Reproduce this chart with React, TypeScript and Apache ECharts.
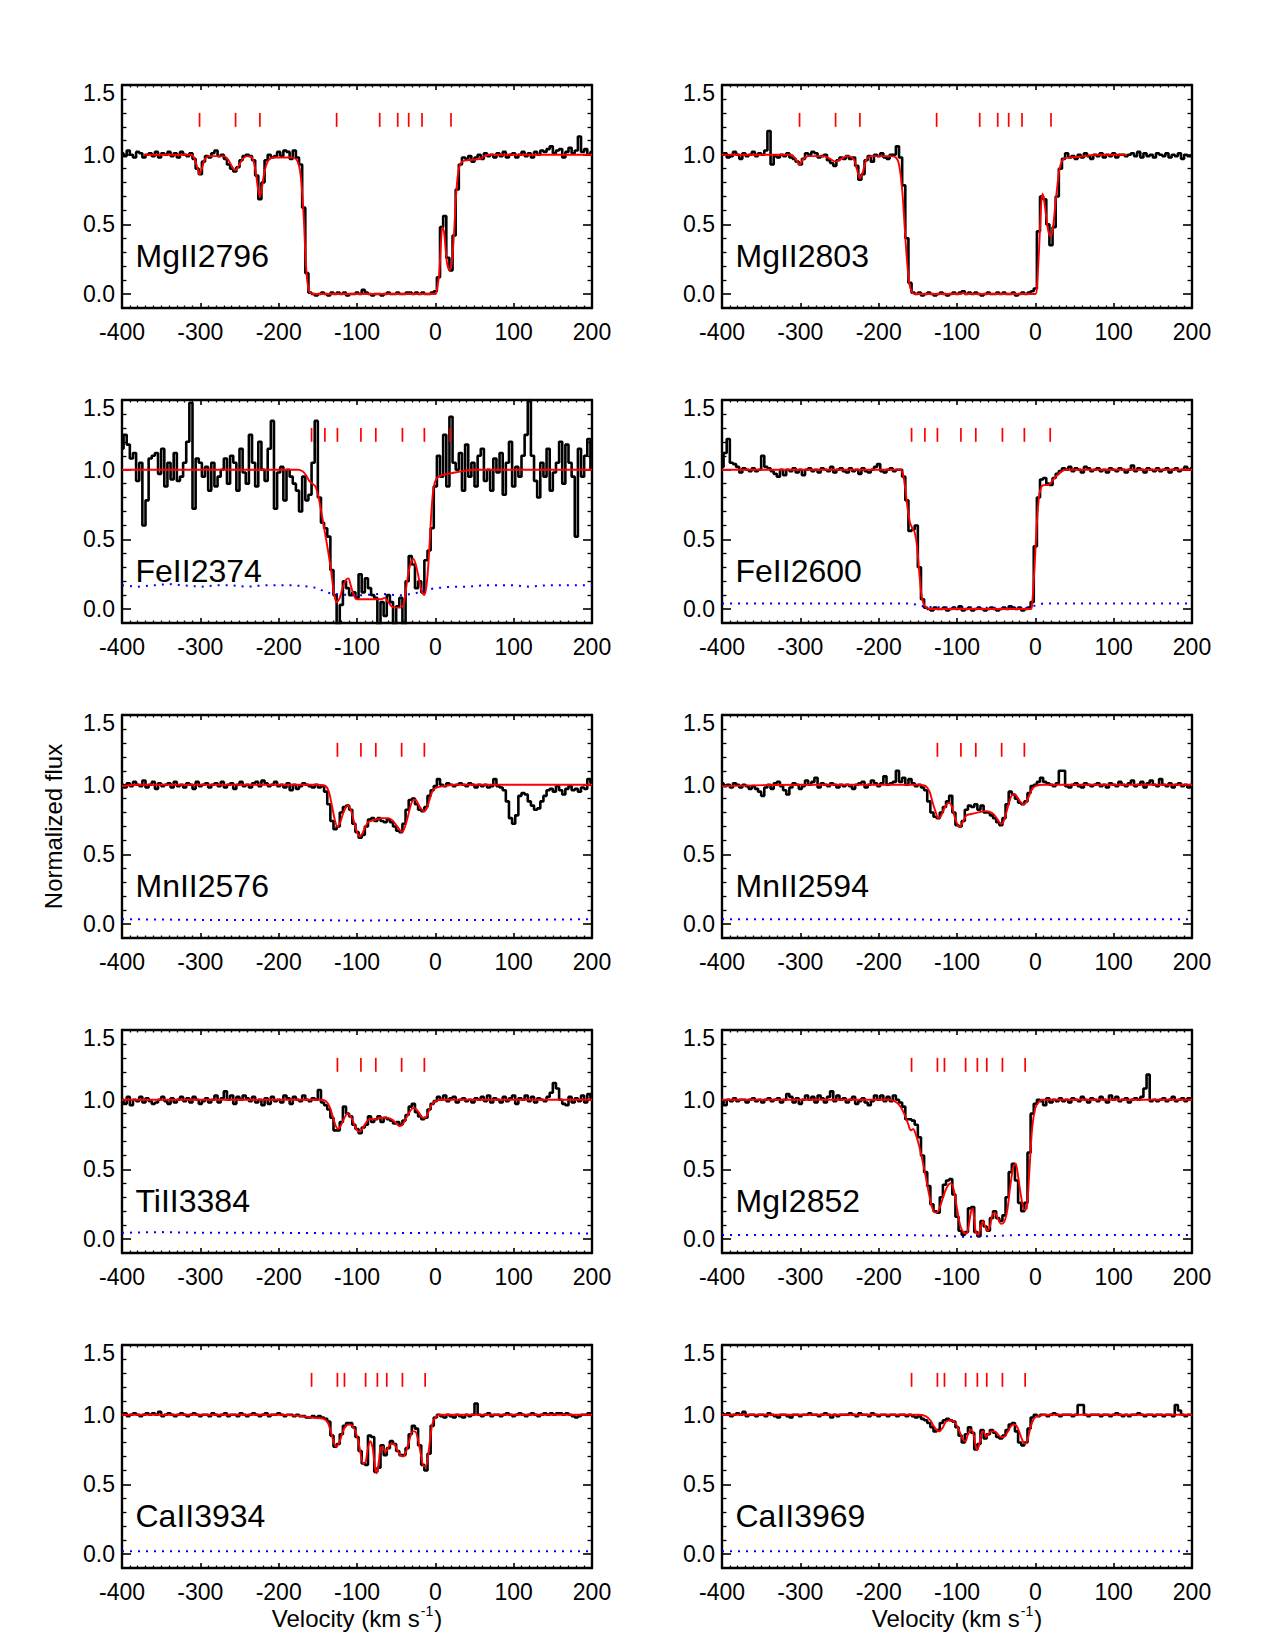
import React, { useEffect, useRef } from "react";
import * as echarts from "echarts";

// Velocity sampling of the observed spectra: one pixel every 4 km/s from -400 to +200 km/s
const V_START = -400;
const V_STEP = 4;

// ---------------------------------------------------------------------------
// Observed normalized flux (rows of 10 pixels; row start velocity in comment)
// ---------------------------------------------------------------------------
const fluxMgII2796 = [
  1.01, 0.99, 1.03, 1.0, 0.98, 1.02, 1.01, 0.98, 1.0, 1.01, // -400
  0.99, 1.02, 0.98, 1.01, 1.0, 1.02, 0.99, 1.01, 0.98, 1.02, // -360
  1.0, 0.99, 1.01, 0.97, 0.9, 0.86, 0.95, 0.99, 0.98, 1.01, // -320
  1.03, 0.99, 1.0, 0.97, 0.93, 0.9, 0.88, 0.91, 0.96, 0.99, // -280
  1.0, 0.99, 0.96, 0.85, 0.68, 0.8, 0.96, 1.0, 0.98, 0.99, // -240
  1.02, 0.99, 1.03, 1.02, 0.97, 1.03, 0.98, 0.93, 0.62, 0.15, // -200
  0.01, 0.0, -0.01, 0.0, 0.01, 0.0, -0.01, 0.01, 0.0, 0.01, // -160
  0.0, 0.01, -0.01, 0.0, 0.0, 0.01, 0.0, 0.03, 0.01, 0.0, // -120
  -0.01, 0.0, 0.0, -0.01, 0.0, 0.01, 0.0, 0.0, 0.01, 0.0, // -80
  0.0, 0.01, 0.01, 0.0, 0.01, 0.0, 0.01, 0.0, 0.0, 0.01, // -40
  0.02, 0.12, 0.48, 0.56, 0.26, 0.17, 0.42, 0.75, 0.93, 0.98, // 0
  0.97, 0.99, 0.95, 0.98, 1.0, 0.97, 1.01, 0.99, 1.0, 0.98, // 40
  1.01, 0.99, 1.02, 0.98, 1.0, 1.01, 0.98, 1.0, 1.02, 0.99, // 80
  1.01, 0.98, 1.02, 1.0, 1.03, 1.02, 1.04, 1.06, 1.01, 1.03, // 120
  1.04, 0.98, 1.02, 1.05, 1.01, 1.03, 1.13, 1.02, 1.04, 1.0, // 160
  1.02, // 200
];

const fluxMgII2803 = [
  1.0, 1.01, 0.98, 0.99, 1.02, 1.0, 0.97, 1.01, 0.99, 1.0,
  1.02, 0.99, 1.01, 1.0, 1.03, 1.17, 0.93, 0.99, 0.98, 1.0,
  0.99, 1.01, 0.98, 0.97, 0.95, 0.93, 0.97, 1.01, 1.0, 1.02,
  1.01, 0.98, 0.99, 1.0, 0.96, 0.94, 0.92, 0.96, 0.98, 0.97,
  0.99, 0.97, 0.98, 0.92, 0.82, 0.86, 0.96, 0.99, 0.95, 1.0,
  0.99, 1.01, 0.98, 0.97, 1.0, 1.0, 1.06, 0.98, 0.78, 0.4,
  0.08, 0.01, 0.0, 0.01, -0.01, 0.0, 0.01, 0.0, -0.01, 0.0,
  0.01, 0.0, -0.01, 0.0, 0.01, 0.0, 0.01, 0.02, 0.0, 0.01,
  0.0, 0.01, 0.0, -0.01, 0.0, 0.01, 0.0, 0.0, 0.01, 0.0,
  0.01, 0.0, 0.0, 0.01, -0.01, 0.0, 0.01, 0.0, 0.01, 0.02,
  0.04, 0.45, 0.7, 0.68, 0.5, 0.35, 0.48, 0.7, 0.9, 0.97,
  1.01, 0.98, 0.99, 0.97, 1.0, 0.98, 1.01, 0.99, 0.97, 1.0,
  0.99, 1.01, 0.98, 1.0, 0.99, 1.01, 0.98, 1.0, 1.0, 0.99,
  1.0, 1.01, 0.99, 1.02, 0.98, 1.01, 0.99, 1.0, 0.98, 1.01,
  1.0, 0.99, 1.01, 0.98, 1.0, 0.99, 1.01, 0.97, 1.0, 0.99,
  0.99,
];

const fluxFeII2374 = [
  1.15, 1.25, 1.18, 1.08, 1.12, 0.92, 1.05, 0.6, 0.78, 1.08,
  1.1, 1.12, 0.97, 1.15, 0.88, 1.05, 0.93, 1.12, 0.92, 0.95,
  1.05, 1.2, 1.48, 0.72, 1.08, 1.05, 0.95, 1.02, 0.85, 1.05,
  0.88, 0.95, 1.0, 1.08, 0.9, 1.1, 1.05, 0.85, 1.15, 0.98,
  0.9, 1.25, 1.05, 0.88, 1.2, 1.0, 0.92, 1.15, 1.35, 0.72,
  0.98, 1.02, 0.78, 1.0, 0.95, 0.9, 0.85, 0.7, 0.95, 0.78,
  0.82, 1.05, 1.35, 0.8, 0.62, 0.58, 0.52, 0.28, 0.1, -0.12,
  0.03, 0.2, 0.15, 0.1, 0.12, 0.08, 0.25, 0.12, 0.22, 0.15,
  0.1, 0.08, -0.12, 0.05, -0.05, 0.1, 0.05, -0.12, 0.02, 0.08,
  -0.12, 0.2, 0.38, 0.32, 0.15, 0.2, 0.12, 0.35, 0.42, 0.58,
  0.88, 1.1, 0.95, 1.25, 0.88, 1.38, 1.05, 1.0, 1.12, 0.85,
  1.18, 0.95, 1.05, 0.88, 1.1, 1.15, 0.92, 1.0, 0.85, 1.08,
  0.98, 1.12, 0.82, 1.05, 1.2, 0.88, 1.02, 0.95, 1.1, 1.25,
  1.5, 1.1, 0.92, 0.8, 1.05, 0.95, 1.15, 0.85, 0.98, 1.05,
  1.2, 0.9, 1.18, 1.05, 0.95, 0.52, 1.15, 0.95, 1.1, 1.22,
  1.0,
];

const fluxFeII2600 = [
  1.02, 1.12, 1.22, 1.05, 1.04, 1.02, 0.98, 1.01, 1.0, 0.99,
  1.01, 0.99, 1.0, 1.1, 1.02, 1.01, 0.99, 0.97, 0.95, 1.0,
  0.96, 1.0, 0.99, 1.01, 0.98, 1.0, 0.96, 1.0, 1.01, 0.99,
  1.0, 0.98, 1.01, 1.0, 0.99, 1.02, 0.98, 1.0, 1.01, 0.99,
  0.98, 1.01, 0.99, 1.0, 0.97, 1.01, 0.99, 0.98, 1.0, 1.02,
  1.04, 0.99, 0.98, 1.0, 1.01, 0.99, 1.0, 1.0, 0.95, 0.78,
  0.56, 0.57, 0.6, 0.3, 0.07, 0.01, 0.0, -0.01, 0.01, 0.0,
  0.0, 0.01, -0.01, 0.0, 0.01, 0.0, 0.02, -0.01, 0.0, 0.01,
  -0.01, 0.0, 0.01, 0.0, -0.01, 0.0, 0.01, 0.0, -0.01, 0.0,
  0.01, 0.0, 0.02, 0.01, 0.0, 0.01, -0.01, 0.0, 0.01, 0.05,
  0.45, 0.8, 0.93, 0.94, 0.9, 0.89, 0.94, 0.97, 0.99, 1.01,
  1.0, 1.02, 0.99, 1.01, 1.0, 0.98, 1.02, 1.01, 0.99, 1.0,
  1.01, 0.99, 1.0, 0.98, 1.01, 1.0, 0.99, 1.01, 1.0, 0.98,
  1.0, 1.03, 0.99, 1.01, 1.0, 0.98, 1.01, 1.0, 0.99, 1.01,
  0.99, 1.0, 1.01, 0.98, 1.0, 1.01, 0.99, 1.0, 1.02, 1.0,
  1.01,
];

const fluxMnII2576 = [
  1.0, 0.98, 1.01, 0.99, 1.02, 1.0, 0.99, 1.03, 0.98, 1.0,
  1.02, 0.97, 1.01, 0.99, 1.0, 1.01, 0.98, 1.02, 0.99, 1.0,
  0.98, 1.01, 1.0, 0.97, 1.02, 0.99, 1.0, 1.01, 0.98, 1.0,
  1.01, 0.99, 1.02, 0.98, 1.0, 1.01, 0.97, 1.0, 1.02, 0.99,
  1.0, 0.98, 1.01, 1.02, 0.99, 1.03, 1.01, 0.99, 1.0, 1.02,
  0.99, 1.0, 0.98, 1.01, 0.96, 1.0, 0.97, 0.99, 1.01, 1.0,
  0.99, 0.98, 1.0, 0.98, 0.99, 0.95, 0.86, 0.74, 0.68, 0.7,
  0.8, 0.84, 0.85, 0.82, 0.72, 0.66, 0.62, 0.64, 0.7, 0.75,
  0.76, 0.74, 0.76, 0.74, 0.73, 0.75, 0.73, 0.7, 0.67, 0.66,
  0.72, 0.82, 0.89, 0.9, 0.86, 0.82, 0.81, 0.84, 0.92, 0.96,
  0.99, 1.04, 1.0, 0.99, 1.01, 1.0, 0.99, 1.0, 1.01, 1.0,
  0.99, 1.01, 1.0, 0.98, 1.0, 0.99, 1.0, 0.98, 0.99, 1.04,
  0.99, 0.98, 0.96, 0.88, 0.76, 0.72, 0.78, 0.92, 0.94, 0.93,
  0.88, 0.85, 0.82, 0.83, 0.88, 0.92, 0.96, 0.97, 0.95, 0.99,
  0.96, 0.93, 0.97, 0.99, 0.96, 0.97, 0.95, 0.98, 0.97, 1.04,
  1.01,
];

const fluxMnII2594 = [
  1.01, 0.99, 1.0, 0.98, 1.01, 1.0, 0.98, 1.0, 0.99, 0.97,
  0.99, 0.97, 0.95, 0.92, 0.98, 1.0, 0.97, 1.01, 1.02, 0.99,
  0.96, 0.93, 0.98, 1.01, 1.0, 0.97, 0.99, 1.03, 1.0, 1.02,
  1.05, 0.98, 1.01, 1.0, 0.99, 1.01, 1.0, 0.98, 1.0, 0.99,
  1.0, 0.99, 0.97, 1.0, 1.01, 1.02, 0.98, 1.0, 1.03, 1.01,
  0.99, 1.01, 1.06, 1.0, 1.01, 1.02, 1.1, 1.02, 1.05, 1.0,
  1.04, 1.01, 0.99, 1.0, 0.98, 0.96, 0.88, 0.8, 0.77, 0.76,
  0.8, 0.84, 0.88, 0.92, 0.8, 0.71, 0.7, 0.74, 0.82, 0.85,
  0.84, 0.86, 0.82, 0.85, 0.8, 0.8, 0.78, 0.76, 0.73, 0.71,
  0.76, 0.86, 0.95, 0.93, 0.9, 0.87, 0.86, 0.88, 0.94, 0.99,
  1.0, 1.02, 1.05, 1.02, 1.01, 1.0, 0.99, 1.01, 1.1, 1.1,
  0.99, 0.98, 1.0, 1.01, 0.99, 0.98, 1.01, 1.0, 0.99, 1.0,
  1.01, 0.99, 1.0, 0.98, 1.01, 1.0, 0.99, 1.02, 1.0, 0.99,
  1.01, 1.03, 0.99, 1.0, 1.02, 0.98, 1.01, 1.03, 1.0, 0.99,
  1.04, 1.0, 0.99, 1.01, 0.98, 1.0, 1.01, 0.99, 1.0, 0.98,
  1.0,
];

const fluxTiII3384 = [
  1.0, 0.97, 1.02, 0.96, 1.0, 0.99, 1.02, 0.98, 1.01, 0.99,
  0.97, 0.98, 1.0, 1.02, 0.99, 0.97, 1.01, 0.98, 1.0, 1.02,
  0.99, 1.01, 0.98, 1.02, 1.0, 0.97, 0.99, 1.01, 0.98, 1.0,
  1.03, 0.98, 1.01, 1.06, 1.0, 1.03, 0.97, 1.02, 1.0, 1.03,
  1.01, 0.99, 1.02, 0.98, 1.0, 0.96, 1.01, 0.97, 1.02, 0.99,
  1.0, 0.98, 1.03, 1.01, 0.97, 1.02, 1.0, 0.99, 1.03, 1.0,
  0.99, 1.01, 1.0, 1.07, 0.98, 0.96, 0.93, 0.87, 0.78, 0.78,
  0.84, 0.95, 0.9, 0.88, 0.82, 0.79, 0.76, 0.8, 0.82, 0.88,
  0.84, 0.86, 0.88, 0.84, 0.87, 0.86, 0.85, 0.83, 0.84, 0.82,
  0.85, 0.89, 0.95, 0.97, 0.91, 0.88, 0.86, 0.87, 0.93, 0.97,
  0.99, 1.02, 1.0, 1.03, 0.99, 1.01, 1.02, 0.98, 1.0, 1.01,
  0.99, 1.0, 0.98, 1.01, 1.0, 1.02, 0.99, 1.03, 0.98, 1.01,
  1.0, 0.98, 1.02, 0.99, 1.01, 1.03, 0.97, 1.01, 1.0, 1.03,
  0.99, 1.02, 0.98, 1.01, 1.0, 0.99, 1.02, 1.05, 1.12, 1.08,
  1.0, 0.97, 0.96, 1.02, 0.98, 1.01, 0.99, 1.03, 0.98, 1.04,
  1.01,
];

const fluxMgI2852 = [
  0.99, 0.96, 1.0, 0.99, 1.01, 0.99, 1.0, 1.0, 0.98, 1.0,
  1.01, 0.99, 1.0, 0.98, 1.0, 1.01, 0.99, 1.0, 1.01, 0.98,
  1.0, 1.04, 1.02, 0.98, 1.01, 0.97, 1.0, 1.03, 1.0, 1.02,
  0.98, 1.03, 1.01, 0.98, 1.02, 1.06, 0.99, 1.03, 1.0, 1.01,
  0.98, 1.0, 1.02, 0.97, 0.99, 1.01, 0.98, 0.96, 0.99, 1.03,
  1.0, 1.03, 0.99, 1.02, 0.99, 1.03, 1.0, 0.98, 0.95, 0.86,
  0.86, 0.85, 0.82, 0.73, 0.6, 0.48, 0.38, 0.25, 0.2, 0.19,
  0.3, 0.39, 0.42, 0.43, 0.32, 0.16, 0.06, 0.03, 0.05, 0.22,
  0.23, 0.05, 0.02, 0.13, 0.09, 0.06, 0.15, 0.2, 0.15, 0.13,
  0.17, 0.3, 0.48, 0.54, 0.42, 0.26, 0.2, 0.26, 0.62, 0.9,
  0.97, 1.0, 0.99, 0.96, 1.01, 0.98, 1.0, 0.99, 1.01, 0.99,
  1.0, 0.98, 1.01, 1.0, 0.99, 1.02, 1.0, 0.98, 1.01, 1.0,
  0.99, 1.02, 1.0, 0.98, 1.03, 1.0, 1.02, 0.99, 1.0, 1.01,
  0.98, 1.0, 1.01, 1.0, 1.02, 1.08, 1.18, 0.99, 1.0, 0.99,
  1.0, 1.01, 0.99, 1.0, 1.02, 0.99, 1.0, 1.01, 0.99, 1.01,
  1.0,
];

const fluxCaII3934 = [
  1.0, 1.01, 0.99, 1.0, 1.01, 1.0, 0.99, 1.0, 1.01, 1.0,
  1.01, 1.0, 1.02, 0.99, 1.0, 1.01, 1.0, 0.99, 1.0, 1.01,
  1.0, 0.99, 1.0, 1.01, 1.0, 0.99, 1.0, 1.0, 0.99, 1.01,
  1.0, 0.99, 1.0, 1.01, 0.99, 1.0, 1.0, 0.99, 1.01, 1.0,
  0.99, 1.0, 1.01, 1.0, 0.99, 1.0, 1.01, 0.99, 1.0, 1.0,
  1.01, 1.0, 0.99, 1.0, 1.0, 0.99, 1.0, 0.99, 0.99, 0.98,
  0.98, 0.99, 0.98, 0.99, 0.98, 0.97, 0.95, 0.85, 0.77, 0.79,
  0.86, 0.92, 0.94, 0.94, 0.91, 0.84, 0.74, 0.65, 0.64, 0.85,
  0.84, 0.59, 0.62, 0.78, 0.71, 0.76, 0.81, 0.79, 0.74, 0.71,
  0.71, 0.76, 0.86, 0.92, 0.9, 0.78, 0.64, 0.6, 0.72, 0.92,
  0.98, 1.0, 0.99, 0.98, 1.0, 0.99, 0.98, 1.0, 0.99, 0.98,
  1.0, 0.99, 1.0, 1.08, 1.0, 0.99, 1.0, 1.01, 0.99, 1.0,
  1.0, 0.99, 1.0, 1.01, 1.0, 0.99, 1.0, 1.01, 1.0, 0.99,
  1.0, 1.01, 1.0, 0.99, 1.0, 1.01, 1.0, 1.01, 1.0, 1.01,
  1.01, 1.0, 1.01, 1.0, 0.99, 0.98, 0.99, 1.0, 1.0, 1.01,
  1.0,
];

const fluxCaII3969 = [
  1.01, 1.0, 1.01, 0.99, 1.0, 1.01, 1.0, 1.02, 0.99, 1.0,
  1.0, 0.99, 1.0, 1.0, 0.99, 1.01, 1.0, 0.99, 0.98, 1.0,
  1.0, 0.99, 0.98, 1.0, 1.0, 0.99, 1.0, 1.0, 1.01, 1.0,
  1.0, 0.99, 1.0, 1.01, 1.0, 0.98, 1.0, 0.99, 1.0, 1.0,
  1.0, 1.01, 1.0, 0.99, 1.01, 1.0, 1.0, 0.99, 1.01, 1.0,
  0.99, 1.0, 1.0, 0.99, 1.0, 1.0, 0.99, 1.0, 1.0, 0.99,
  1.0, 0.99, 0.98, 0.99, 0.97, 0.96, 0.94, 0.91, 0.88, 0.89,
  0.94, 0.96, 0.97, 0.96, 0.95, 0.91, 0.85, 0.8, 0.86, 0.91,
  0.87, 0.75, 0.79, 0.89, 0.83, 0.86, 0.89, 0.87, 0.84, 0.83,
  0.85, 0.89, 0.93, 0.94, 0.88, 0.8, 0.78, 0.8, 0.9, 0.98,
  1.0, 0.99, 1.0, 1.0, 0.99, 1.0, 1.01, 1.0, 0.99, 1.0,
  1.0, 1.0, 0.99, 1.0, 1.07, 1.07, 1.0, 0.99, 1.0, 1.0,
  1.0, 0.99, 1.0, 1.0, 0.99, 1.0, 1.01, 1.0, 0.99, 1.0,
  0.99, 1.0, 1.0, 1.01, 1.0, 0.99, 1.0, 1.0, 0.99, 1.0,
  1.0, 0.99, 1.0, 1.0, 0.99, 1.07, 1.03, 1.0, 0.99, 1.0,
  1.0,
];

// ---------------------------------------------------------------------------
// Voigt-profile fits, as [velocity, normalized flux]
// ---------------------------------------------------------------------------
const modelMgII2796 = [
  [-372, 1.0], [-312, 1.0], [-308, 0.98], [-304, 0.91], [-301, 0.86], [-298, 0.9], [-294, 0.97],
  [-288, 0.99], [-270, 0.99], [-264, 0.96], [-258, 0.9], [-255, 0.89], [-251, 0.92], [-246, 0.97],
  [-240, 0.99], [-234, 0.98], [-230, 0.9], [-226, 0.74], [-224, 0.7], [-222, 0.74], [-218, 0.88],
  [-213, 0.96], [-205, 0.98], [-185, 0.98], [-178, 0.97], [-174, 0.92], [-171, 0.8], [-168, 0.55],
  [-166, 0.3], [-164, 0.12], [-162, 0.04], [-160, 0.01], [-155, 0.0], [0, 0.0], [2, 0.03], [5, 0.15],
  [7, 0.35], [9, 0.48], [11, 0.45], [13, 0.33], [15, 0.22], [18, 0.17], [21, 0.22], [24, 0.45],
  [27, 0.75], [30, 0.9], [34, 0.95], [40, 0.96], [58, 0.97], [62, 0.99], [70, 1.0], [200, 1.0],
];

const modelMgII2803 = [
  [-400, 1.0], [-312, 1.0], [-306, 0.97], [-301, 0.93], [-296, 0.97], [-290, 0.99], [-270, 0.99],
  [-262, 0.97], [-255, 0.95], [-248, 0.97], [-240, 0.99], [-232, 0.97], [-228, 0.9], [-224, 0.83],
  [-220, 0.88], [-215, 0.97], [-208, 0.99], [-185, 0.99], [-178, 0.98], [-174, 0.93], [-170, 0.75],
  [-167, 0.5], [-164, 0.25], [-161, 0.08], [-158, 0.02], [-154, 0.0], [-95, 0.0], [-92, 0.01],
  [-89, 0.0], [0, 0.0], [2, 0.05], [5, 0.35], [7, 0.6], [9, 0.72], [11, 0.68], [14, 0.55], [17, 0.44],
  [20, 0.41], [23, 0.5], [27, 0.72], [31, 0.9], [36, 0.97], [45, 0.98], [65, 0.99], [75, 1.0], [117, 1.0],
];

const modelFeII2374 = [
  [-400, 1.0], [-175, 1.0], [-170, 0.99], [-165, 0.96], [-161, 0.92], [-157, 0.9], [-153, 0.88],
  [-149, 0.8], [-145, 0.68], [-141, 0.55], [-137, 0.42], [-133, 0.27], [-129, 0.1], [-126, 0.05],
  [-122, 0.08], [-118, 0.16], [-114, 0.21], [-111, 0.22], [-108, 0.17], [-104, 0.1], [-100, 0.07],
  [-90, 0.07], [-80, 0.07], [-70, 0.07], [-65, 0.08], [-60, 0.05], [-56, 0.02], [-50, 0.01],
  [-44, 0.01], [-40, 0.05], [-36, 0.2], [-32, 0.32], [-28, 0.36], [-25, 0.32], [-21, 0.22],
  [-17, 0.12], [-14, 0.1], [-11, 0.18], [-8, 0.4], [-5, 0.7], [-2, 0.88], [2, 0.94], [8, 0.96],
  [16, 0.97], [25, 0.98], [35, 0.99], [50, 1.0], [200, 1.0],
];

const modelFeII2600 = [
  [-400, 1.0], [-172, 1.0], [-169, 0.97], [-166, 0.86], [-163, 0.72], [-160, 0.62], [-157, 0.58],
  [-154, 0.55], [-151, 0.45], [-148, 0.25], [-145, 0.09], [-142, 0.03], [-139, 0.01], [-135, 0.0],
  [-6, 0.0], [-4, 0.04], [-1, 0.3], [2, 0.62], [5, 0.82], [8, 0.88], [12, 0.89], [16, 0.89],
  [19, 0.9], [23, 0.93], [28, 0.96], [34, 0.99], [40, 1.0], [200, 1.0],
];

const modelMnII2576 = [
  [-400, 0.99], [-380, 1.0], [-150, 1.0], [-140, 0.99], [-136, 0.95], [-132, 0.85], [-128, 0.74],
  [-125, 0.7], [-122, 0.72], [-118, 0.79], [-114, 0.84], [-111, 0.85], [-108, 0.82], [-104, 0.74],
  [-100, 0.66], [-97, 0.63], [-94, 0.64], [-90, 0.69], [-86, 0.73], [-82, 0.74], [-76, 0.75],
  [-68, 0.76], [-60, 0.76], [-54, 0.74], [-50, 0.71], [-46, 0.68], [-43, 0.66], [-40, 0.68],
  [-36, 0.75], [-32, 0.84], [-28, 0.89], [-25, 0.89], [-21, 0.85], [-17, 0.82], [-14, 0.81],
  [-11, 0.83], [-7, 0.9], [-3, 0.96], [2, 0.98], [10, 0.99], [25, 1.0], [200, 1.0],
];

const modelMnII2594 = [
  [-400, 0.99], [-300, 1.0], [-150, 1.0], [-140, 0.99], [-135, 0.95], [-131, 0.87], [-127, 0.8],
  [-124, 0.76], [-121, 0.77], [-117, 0.82], [-113, 0.86], [-110, 0.87], [-107, 0.85], [-103, 0.77],
  [-99, 0.71], [-96, 0.7], [-92, 0.74], [-88, 0.78], [-82, 0.79], [-74, 0.8], [-64, 0.81],
  [-56, 0.8], [-52, 0.78], [-48, 0.75], [-44, 0.72], [-41, 0.73], [-37, 0.8], [-33, 0.88],
  [-29, 0.93], [-26, 0.93], [-22, 0.9], [-18, 0.87], [-15, 0.86], [-12, 0.87], [-8, 0.92],
  [-4, 0.97], [0, 0.99], [10, 1.0], [200, 1.0],
];

const modelTiII3384 = [
  [-400, 1.0], [-145, 1.0], [-140, 0.99], [-135, 0.95], [-131, 0.88], [-127, 0.81], [-124, 0.79],
  [-121, 0.81], [-116, 0.87], [-112, 0.9], [-108, 0.88], [-104, 0.83], [-100, 0.78], [-97, 0.77],
  [-93, 0.79], [-88, 0.84], [-84, 0.86], [-78, 0.86], [-70, 0.87], [-62, 0.87], [-56, 0.86],
  [-50, 0.83], [-46, 0.81], [-42, 0.82], [-37, 0.87], [-32, 0.92], [-28, 0.94], [-24, 0.93],
  [-20, 0.9], [-16, 0.87], [-13, 0.87], [-9, 0.91], [-5, 0.96], [0, 0.99], [10, 1.0], [200, 1.0],
];

const modelMgI2852 = [
  [-400, 1.0], [-185, 1.0], [-180, 0.99], [-175, 0.97], [-170, 0.93], [-166, 0.88], [-162, 0.82],
  [-159, 0.78], [-156, 0.79], [-152, 0.74], [-148, 0.66], [-144, 0.56], [-140, 0.45], [-136, 0.33],
  [-132, 0.23], [-128, 0.19], [-124, 0.2], [-120, 0.26], [-116, 0.33], [-112, 0.38], [-108, 0.4],
  [-104, 0.35], [-100, 0.22], [-96, 0.1], [-92, 0.05], [-88, 0.04], [-85, 0.1], [-82, 0.2],
  [-80, 0.22], [-78, 0.14], [-76, 0.05], [-73, 0.03], [-70, 0.08], [-67, 0.13], [-64, 0.09],
  [-61, 0.06], [-58, 0.09], [-55, 0.17], [-52, 0.19], [-48, 0.15], [-44, 0.11], [-40, 0.12],
  [-36, 0.2], [-32, 0.38], [-28, 0.52], [-25, 0.54], [-22, 0.45], [-18, 0.3], [-14, 0.21],
  [-11, 0.22], [-8, 0.45], [-4, 0.8], [0, 0.94], [4, 0.98], [8, 1.0], [200, 1.0],
];

const modelCaII3934 = [
  [-400, 1.0], [-200, 1.0], [-170, 0.99], [-158, 0.98], [-150, 0.975], [-142, 0.97], [-137, 0.94],
  [-133, 0.87], [-129, 0.79], [-126, 0.77], [-122, 0.81], [-118, 0.88], [-114, 0.92], [-110, 0.93],
  [-106, 0.92], [-102, 0.88], [-98, 0.8], [-95, 0.71], [-92, 0.65], [-89, 0.66], [-86, 0.76],
  [-83, 0.81], [-80, 0.76], [-77, 0.62], [-75, 0.58], [-72, 0.67], [-70, 0.76], [-67, 0.77],
  [-64, 0.73], [-61, 0.75], [-57, 0.79], [-53, 0.79], [-49, 0.75], [-45, 0.71], [-41, 0.7],
  [-37, 0.74], [-33, 0.82], [-29, 0.88], [-26, 0.88], [-22, 0.82], [-18, 0.7], [-15, 0.63],
  [-12, 0.63], [-8, 0.76], [-4, 0.93], [0, 0.98], [6, 1.0], [200, 1.0],
];

const modelCaII3969 = [
  [-400, 1.0], [-150, 1.0], [-140, 0.99], [-134, 0.96], [-130, 0.92], [-126, 0.89], [-123, 0.88],
  [-119, 0.9], [-114, 0.95], [-108, 0.96], [-104, 0.95], [-100, 0.92], [-96, 0.87], [-92, 0.82],
  [-89, 0.81], [-86, 0.86], [-82, 0.89], [-79, 0.86], [-76, 0.77], [-74, 0.75], [-71, 0.8],
  [-68, 0.88], [-66, 0.88], [-63, 0.84], [-60, 0.86], [-56, 0.88], [-52, 0.88], [-48, 0.86],
  [-44, 0.84], [-40, 0.84], [-36, 0.87], [-32, 0.91], [-28, 0.93], [-24, 0.92], [-20, 0.87],
  [-16, 0.81], [-13, 0.79], [-10, 0.82], [-6, 0.91], [-2, 0.97], [3, 0.99], [20, 1.0], [200, 1.0],
];

// ---------------------------------------------------------------------------
// 1-sigma error spectra, as [velocity, error]
// ---------------------------------------------------------------------------
const errFeII2374 = [
  [-400, 0.17], [-380, 0.16], [-360, 0.17], [-340, 0.18], [-320, 0.17], [-300, 0.16], [-280, 0.17],
  [-260, 0.17], [-240, 0.16], [-220, 0.17], [-200, 0.17], [-180, 0.17], [-160, 0.16], [-150, 0.15],
  [-140, 0.12], [-130, 0.11], [-110, 0.1], [-90, 0.1], [-70, 0.11], [-50, 0.1], [-40, 0.1],
  [-30, 0.11], [-20, 0.12], [-10, 0.14], [0, 0.15], [20, 0.16], [40, 0.16], [60, 0.17], [80, 0.17],
  [100, 0.17], [120, 0.16], [140, 0.17], [160, 0.17], [180, 0.17], [200, 0.17],
];
const errFeII2600 = [
  [-400, 0.04], [-300, 0.04], [-200, 0.04], [-160, 0.04], [-150, 0.03], [-140, 0.015], [-100, 0.01],
  [-50, 0.01], [-10, 0.01], [0, 0.025], [10, 0.04], [100, 0.04], [200, 0.04],
];
const errMnII2576 = [[-400, 0.035], [-300, 0.03], [-200, 0.03], [-100, 0.025], [0, 0.03], [100, 0.03], [200, 0.035]];
const errMnII2594 = [[-400, 0.035], [-200, 0.035], [-100, 0.03], [0, 0.035], [200, 0.035]];
const errTiII3384 = [[-400, 0.045], [-350, 0.05], [-300, 0.045], [-200, 0.045], [-100, 0.04], [0, 0.045], [100, 0.045], [200, 0.04]];
const errMgI2852 = [[-400, 0.03], [-200, 0.03], [-120, 0.025], [-90, 0.015], [-60, 0.02], [-20, 0.03], [200, 0.03]];
const errCaII3934 = [[-400, 0.02], [200, 0.02]];
const errCaII3969 = [[-400, 0.02], [200, 0.02]];

// ---------------------------------------------------------------------------
// Velocities of the fitted components (red markers)
// ---------------------------------------------------------------------------
const compMgII = [-301, -255, -224, -126, -71, -48, -34, -17, 20];
const compFeII = [-158, -141, -125, -95, -76, -42, -14, 19];
const compMnII = [-125, -95, -76, -43, -14];
const compTiII = [-125, -95, -76, -43, -14];
const compMgI = [-158, -125, -116, -89, -74, -62, -42, -13];
const compCaII = [-158, -125, -116, -89, -74, -62, -42, -13];

// Axis ticks
const xTickStep = 100;
const yMajorTicks = [0, 0.5, 1.0, 1.5];
const yMinorTicks = [0.1, 0.2, 0.3, 0.4, 0.6, 0.7, 0.8, 0.9, 1.1, 1.2, 1.3, 1.4];

type Panel = {
  name: string;
  flux: number[];
  model: number[][];
  err: number[][] | null;
  comps: number[];
};

const PANELS: Panel[] = [
  { name: "MgII2796", flux: fluxMgII2796, model: modelMgII2796, err: null, comps: compMgII },
  { name: "MgII2803", flux: fluxMgII2803, model: modelMgII2803, err: null, comps: compMgII },
  { name: "FeII2374", flux: fluxFeII2374, model: modelFeII2374, err: errFeII2374, comps: compFeII },
  { name: "FeII2600", flux: fluxFeII2600, model: modelFeII2600, err: errFeII2600, comps: compFeII },
  { name: "MnII2576", flux: fluxMnII2576, model: modelMnII2576, err: errMnII2576, comps: compMnII },
  { name: "MnII2594", flux: fluxMnII2594, model: modelMnII2594, err: errMnII2594, comps: compMnII },
  { name: "TiII3384", flux: fluxTiII3384, model: modelTiII3384, err: errTiII3384, comps: compTiII },
  { name: "MgI2852", flux: fluxMgI2852, model: modelMgI2852, err: errMgI2852, comps: compMgI },
  { name: "CaII3934", flux: fluxCaII3934, model: modelCaII3934, err: errCaII3934, comps: compCaII },
  { name: "CaII3969", flux: fluxCaII3969, model: modelCaII3969, err: errCaII3969, comps: compCaII },
];

// Layout of the 5x2 panel grid (pixels)
const COL_LEFT = [122, 722];
const ROW_TOP0 = 85;
const ROW_STEP = 315;
const PLOT_W = 470;
const PLOT_H = 223;
const Y_MIN = -0.1;
const Y_MAX = 1.5;
const MARK_LOW = 1.2;
const MARK_HIGH = 1.3;

const FONT = '"Liberation Sans", Arial, Helvetica, sans-serif';
const BLACK = "#000000";
const RED = "#ff0000";
const BLUE = "#0000ff";

function buildOption() {
  const grids: any[] = [];
  const xAxes: any[] = [];
  const yAxes: any[] = [];
  const series: any[] = [];
  const graphics: any[] = [];

  const frame = { show: true, onZero: false, lineStyle: { color: BLACK, width: 2.4 } };

  PANELS.forEach((p, i) => {
    const row = Math.floor(i / 2);
    const col = i % 2;
    const left = COL_LEFT[col];
    const top = ROW_TOP0 + row * ROW_STEP;
    grids.push({ left, top, width: PLOT_W, height: PLOT_H, containLabel: false, outerBoundsMode: "none" });

    ["bottom", "top"].forEach((pos) => {
      xAxes.push({
        gridIndex: i,
        type: "value",
        position: pos,
        min: -400,
        max: 200,
        interval: xTickStep,
        axisLine: frame,
        axisTick: { show: true, inside: true, length: 5, lineStyle: { color: BLACK, width: 1.6 } },
        minorTick: { show: true, splitNumber: 10, length: 2.5, lineStyle: { color: BLACK, width: 1.3 } },
        axisLabel: {
          show: pos === "bottom",
          margin: 12,
          fontSize: 23,
          fontFamily: FONT,
          color: BLACK,
        },
        splitLine: { show: false },
        minorSplitLine: { show: false },
      });
    });

    ["left", "right"].forEach((pos) => {
      yAxes.push({
        gridIndex: i,
        type: "value",
        position: pos,
        min: Y_MIN,
        max: Y_MAX,
        axisLine: frame,
        axisTick: {
          show: true,
          inside: true,
          length: 9,
          customValues: yMajorTicks,
          lineStyle: { color: BLACK, width: 1.6 },
        },
        axisLabel: {
          show: pos === "left",
          customValues: yMajorTicks,
          // the top label sits just inside the frame, below the upper border
          formatter: (v: number) => (v >= 1.5 ? "{top|" + v.toFixed(1) + "}" : v.toFixed(1)),
          rich: {
            top: { fontSize: 23, fontFamily: FONT, color: BLACK, padding: [15, 0, 0, 0] },
          },
          margin: 7,
          fontSize: 23,
          fontFamily: FONT,
          color: BLACK,
        },
        splitLine: { show: false },
      });
      yAxes.push({
        gridIndex: i,
        type: "value",
        position: pos,
        min: Y_MIN,
        max: Y_MAX,
        axisLine: { show: false, onZero: false },
        axisTick: {
          show: true,
          inside: true,
          length: 4.5,
          customValues: yMinorTicks,
          lineStyle: { color: BLACK, width: 1.3 },
        },
        axisLabel: { show: false },
        splitLine: { show: false },
      });
    });

    const xi = 2 * i;
    const yi = 4 * i;

    series.push({
      type: "line",
      xAxisIndex: xi,
      yAxisIndex: yi,
      data: p.flux.map((f, k) => [V_START + k * V_STEP, f]),
      step: "middle",
      showSymbol: false,
      symbol: "none",
      silent: true,
      lineStyle: { color: BLACK, width: 2.6 },
      z: 2,
    });

    if (p.err) {
      series.push({
        type: "line",
        xAxisIndex: xi,
        yAxisIndex: yi,
        data: p.err,
        showSymbol: false,
        symbol: "none",
        silent: true,
        lineStyle: { color: BLUE, width: 2, type: [2, 6], cap: "butt" },
        z: 3,
      });
    }

    series.push({
      type: "line",
      xAxisIndex: xi,
      yAxisIndex: yi,
      data: p.model,
      smooth: 0.3,
      showSymbol: false,
      symbol: "none",
      silent: true,
      lineStyle: { color: RED, width: 1.9 },
      z: 4,
    });

    series.push({
      type: "custom",
      xAxisIndex: xi,
      yAxisIndex: yi,
      silent: true,
      data: p.comps.map((v) => [v, MARK_LOW]),
      renderItem: (_params: any, api: any) => {
        const v = api.value(0);
        const a = api.coord([v, MARK_LOW]);
        const b = api.coord([v, MARK_HIGH]);
        return {
          type: "line",
          shape: { x1: a[0], y1: a[1], x2: b[0], y2: b[1] },
          style: { stroke: RED, lineWidth: 1.7 },
        };
      },
      z: 5,
    });

    graphics.push({
      type: "text",
      x: left + 13.5,
      y: top + 171,
      silent: true,
      style: {
        text: p.name,
        fill: BLACK,
        fontSize: 32,
        fontFamily: FONT,
        align: "left",
        verticalAlign: "middle",
      },
    });
  });

  // Shared axis titles
  const bottomRow = ROW_TOP0 + 4 * ROW_STEP + PLOT_H;
  COL_LEFT.forEach((left) => {
    graphics.push({
      type: "text",
      x: left + PLOT_W / 2,
      y: bottomRow + 50,
      silent: true,
      style: {
        text: "Velocity (km s{sup|-1})",
        fill: BLACK,
        fontSize: 24,
        fontFamily: FONT,
        align: "center",
        verticalAlign: "middle",
        rich: {
          sup: { fontSize: 14, fontFamily: FONT, fill: BLACK, verticalAlign: "top", lineHeight: 28, padding: [0, 1, 12, 1] },
        },
      },
    });
  });

  graphics.push({
    type: "text",
    x: 53,
    y: ROW_TOP0 + 2 * ROW_STEP + PLOT_H / 2,
    rotation: Math.PI / 2,
    silent: true,
    style: {
      text: "Normalized flux",
      fill: BLACK,
      fontSize: 24,
      fontFamily: FONT,
      align: "center",
      verticalAlign: "middle",
    },
  });

  return {
    animation: false,
    backgroundColor: "#ffffff",
    grid: grids,
    xAxis: xAxes,
    yAxis: yAxes,
    series,
    graphic: graphics,
  };
}

export default function App() {
  const ref = useRef<HTMLDivElement>(null);

  useEffect(() => {
    if (!ref.current) return;
    const chart = echarts.init(ref.current, undefined, { renderer: "svg" });
    chart.setOption(buildOption());
    return () => chart.dispose();
  }, []);

  return (
    <div
      ref={ref}
      style={{ position: "absolute", left: 0, top: 0, width: 1275, height: 1650, background: "#fff" }}
    />
  );
}
